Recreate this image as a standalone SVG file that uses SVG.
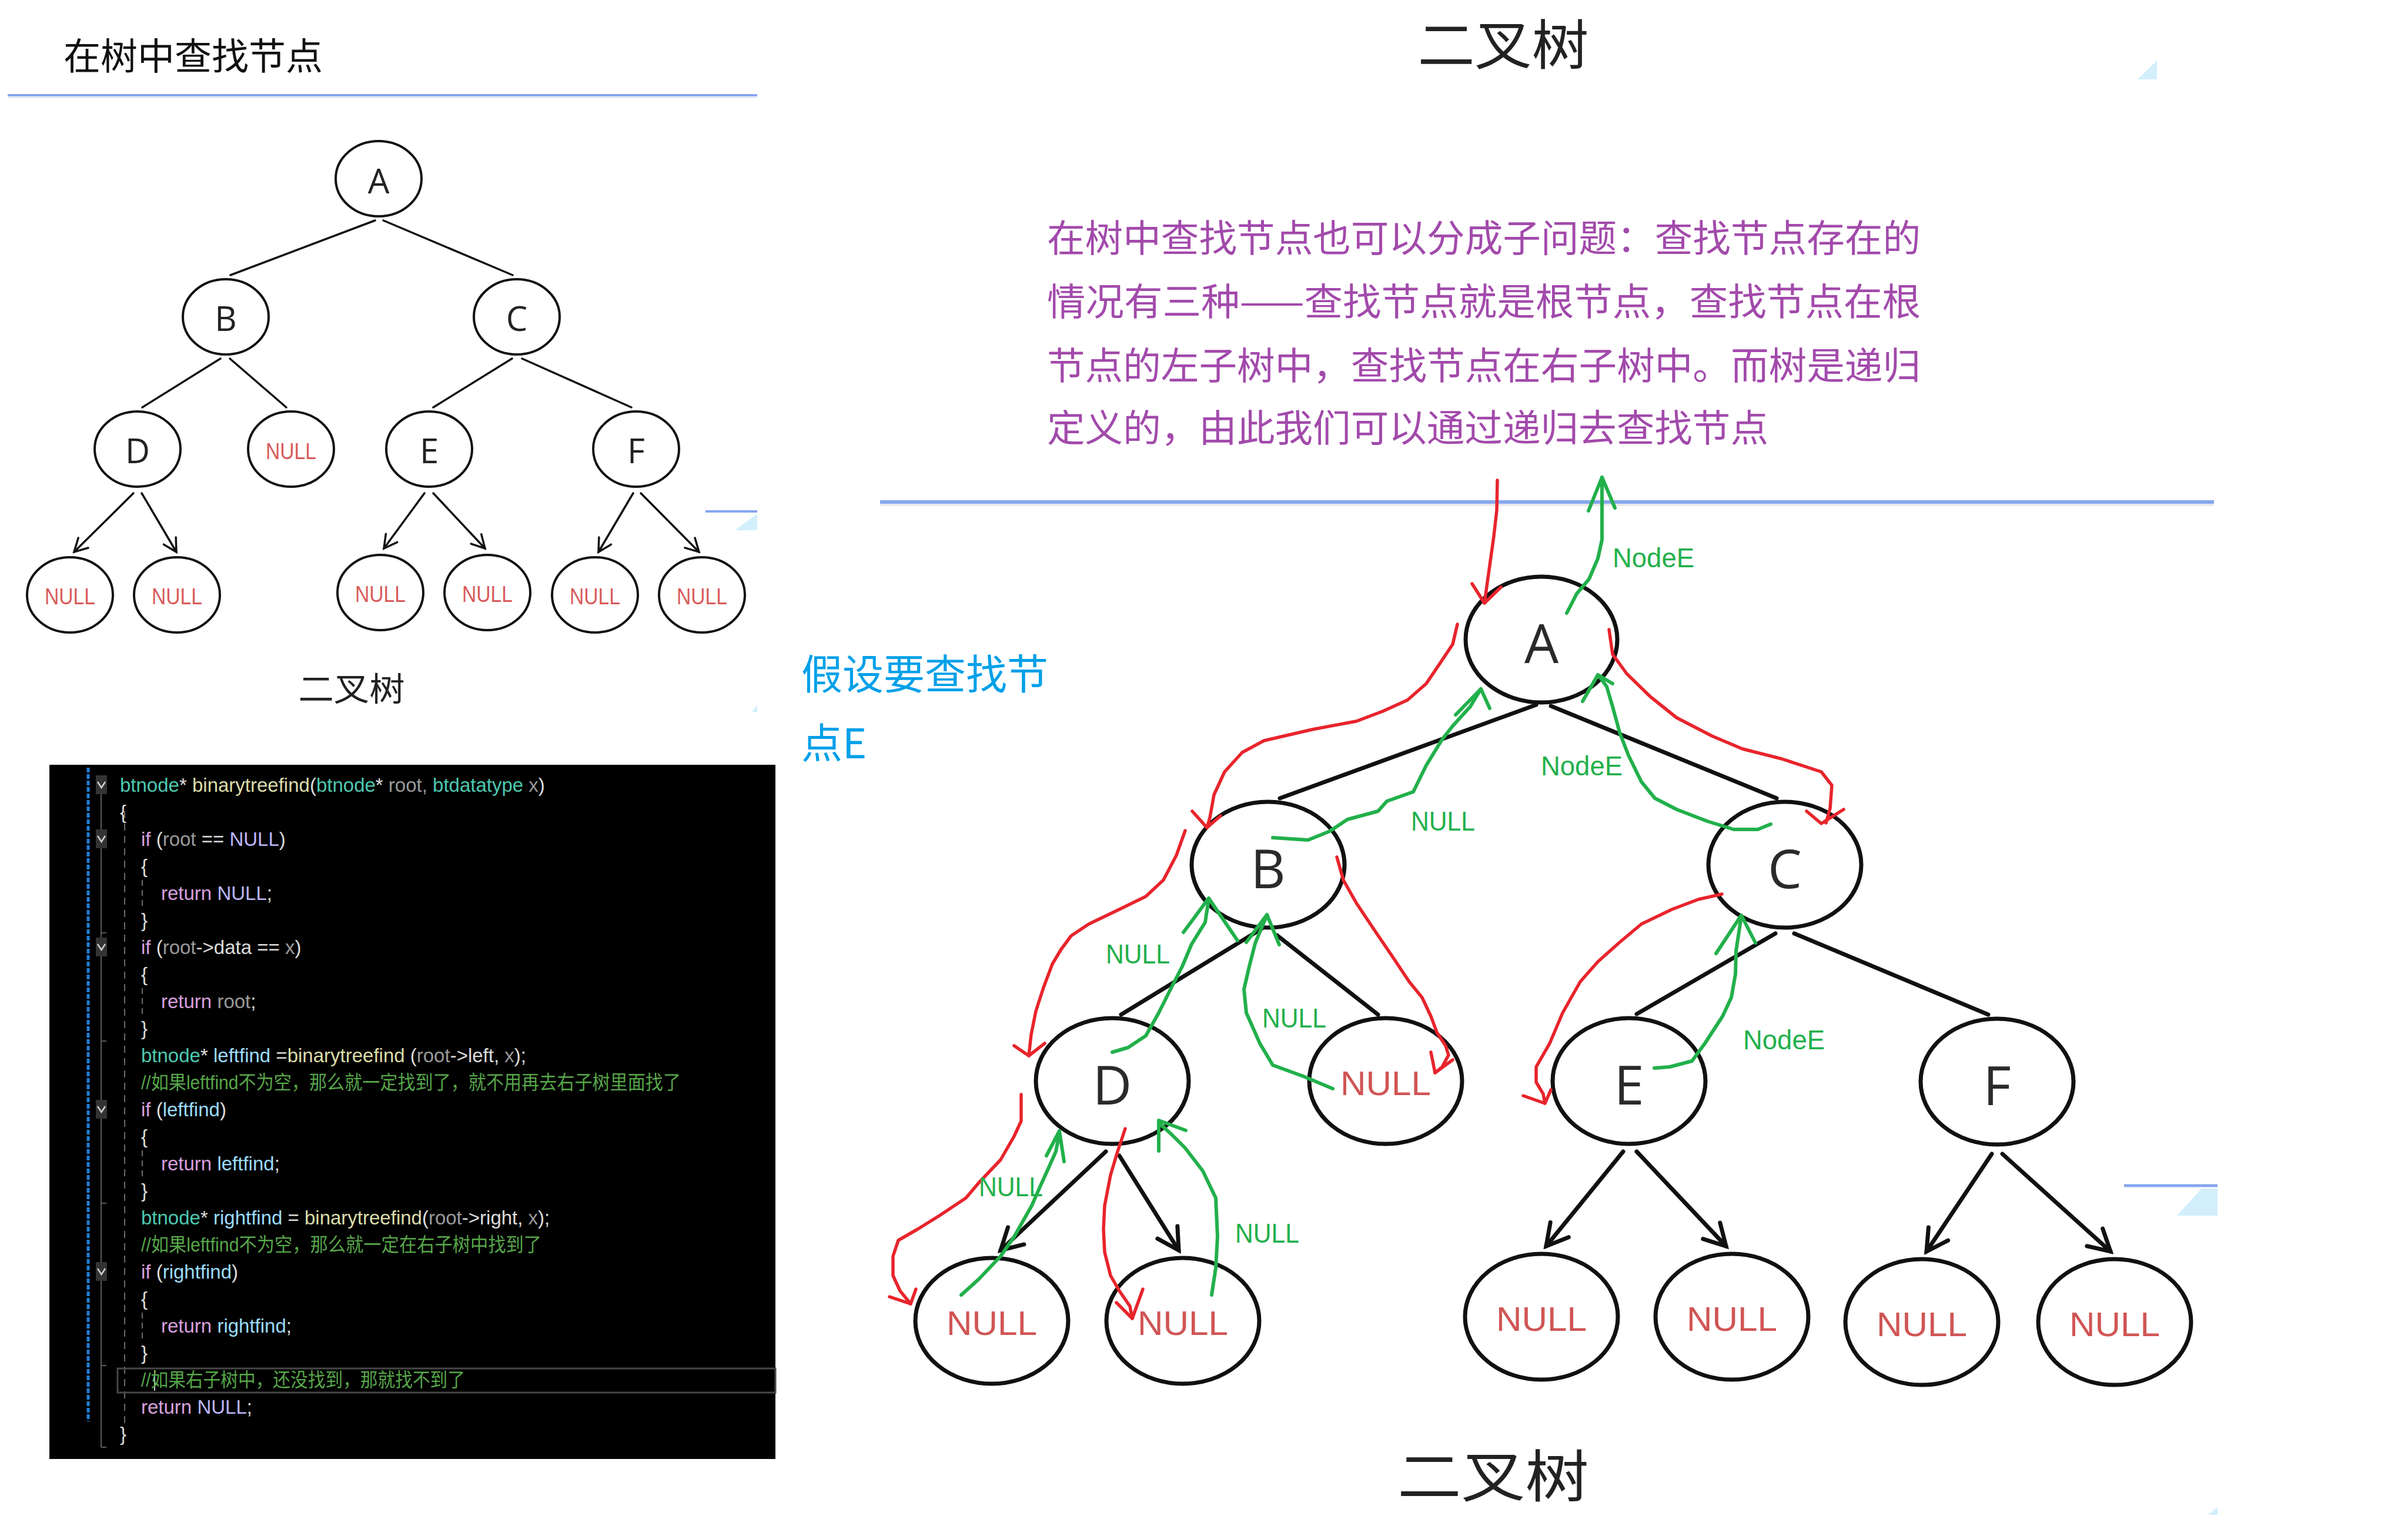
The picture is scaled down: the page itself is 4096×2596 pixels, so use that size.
<svg xmlns="http://www.w3.org/2000/svg" width="4096" height="2596" viewBox="0 0 4096 2596">
<defs>
<style>
.cjk{font-family:"Noto Sans CJK SC","Noto Sans",sans-serif}
.sn{fill:#fff;stroke:#111;stroke-width:4}
.bn{fill:#fff;stroke:#111;stroke-width:7}
.sl{font-family:"Open Sans","Liberation Sans",sans-serif;font-size:58px;fill:#222;text-anchor:middle}
.bl{font-family:"Open Sans","Liberation Sans",sans-serif;font-size:92px;fill:#2a2a2a;text-anchor:middle}
.snull{font-family:"Liberation Sans",sans-serif;font-size:38px;fill:#d85a5a;text-anchor:middle}
.bnull{font-family:"Liberation Sans",sans-serif;font-size:58px;fill:#d05555;text-anchor:middle}
.se{stroke:#111;stroke-width:3.5;fill:none;stroke-linecap:round}
.be{stroke:#111;stroke-width:7;fill:none;stroke-linecap:round}
.red{stroke:#e8242c;stroke-width:5.5;fill:none;stroke-linecap:round;stroke-linejoin:round}
.grn{stroke:#22b04b;stroke-width:6;fill:none;stroke-linecap:round;stroke-linejoin:round}
.gl{font-family:"Liberation Sans",sans-serif;font-size:46px;fill:#22b04b}
.code{font-family:"Liberation Sans","Noto Sans CJK SC",sans-serif;font-size:33px;fill:#dcdcdc}
.ty{fill:#4ec9b0}.fn{fill:#dcdcaa}.pm{fill:#9a9a9a}.kw{fill:#d8a0df}.mc{fill:#bdb7fc}.vr{fill:#9cdcfe}.pl{fill:#dcdcdc}.cm{fill:#57a64a}
.fold{fill:#333}
.chev{stroke:#d0d0d0;stroke-width:2.5;fill:none}
</style>
<marker id="arrS" markerUnits="userSpaceOnUse" orient="auto" markerWidth="40" markerHeight="40" viewBox="-30 -20 40 40" refX="0" refY="0" overflow="visible">
<path d="M-22,-12 L0,0 L-22,12" fill="none" stroke="#111" stroke-width="3.5" stroke-linecap="round"/>
</marker>
<marker id="arrB" markerUnits="userSpaceOnUse" orient="auto" markerWidth="60" markerHeight="60" viewBox="-45 -30 60 60" refX="0" refY="0" overflow="visible">
<path d="M-36,-20 L0,0 L-36,20" fill="none" stroke="#111" stroke-width="7" stroke-linecap="round"/>
</marker>
</defs>
<rect x="0" y="0" width="4096" height="2596" fill="#fff"/>

<!-- left header -->
<text class="cjk" x="108" y="118" font-size="63" fill="#111">在树中查找节点</text>
<line x1="13" y1="162" x2="1288" y2="162" stroke="#86a6ee" stroke-width="4"/>
<line x1="13" y1="166" x2="1288" y2="166" stroke="#e2e6ee" stroke-width="2"/>

<!-- small tree connectors -->
<g id="small-connectors">
<line class="se" x1="638" y1="375" x2="392" y2="468"/>
<line class="se" x1="652" y1="375" x2="872" y2="468"/>
<line class="se" x1="375" y1="610" x2="242" y2="693"/>
<line class="se" x1="391" y1="610" x2="487" y2="693"/>
<line class="se" x1="871" y1="610" x2="737" y2="693"/>
<line class="se" x1="888" y1="610" x2="1074" y2="693"/>
<line class="se" x1="227" y1="839" x2="126" y2="939" marker-end="url(#arrS)"/>
<line class="se" x1="241" y1="839" x2="300" y2="939" marker-end="url(#arrS)"/>
<line class="se" x1="722" y1="839" x2="653" y2="933" marker-end="url(#arrS)"/>
<line class="se" x1="737" y1="839" x2="825" y2="933" marker-end="url(#arrS)"/>
<line class="se" x1="1077" y1="839" x2="1018" y2="939" marker-end="url(#arrS)"/>
<line class="se" x1="1090" y1="839" x2="1189" y2="939" marker-end="url(#arrS)"/>
</g>
<g id="sA"><ellipse class="sn" cx="644" cy="304" rx="73" ry="64"/><text class="sl" x="644" y="329">A</text></g>
<g id="sB"><ellipse class="sn" cx="384" cy="539" rx="73" ry="64"/><text class="sl" x="384" y="563">B</text></g>
<g id="sC"><ellipse class="sn" cx="879" cy="539" rx="73" ry="64"/><text class="sl" x="879" y="563">C</text></g>
<g id="sD"><ellipse class="sn" cx="234" cy="764" rx="73" ry="64"/><text class="sl" x="234" y="788">D</text></g>
<g id="sN1"><ellipse class="sn" cx="495" cy="764" rx="73" ry="64"/><text class="snull" x="495" y="781" textLength="86" lengthAdjust="spacingAndGlyphs">NULL</text></g>
<g id="sE"><ellipse class="sn" cx="730" cy="764" rx="73" ry="64"/><text class="sl" x="730" y="788">E</text></g>
<g id="sF"><ellipse class="sn" cx="1082" cy="764" rx="73" ry="64"/><text class="sl" x="1082" y="788">F</text></g>
<g id="sL1"><ellipse class="sn" cx="119" cy="1012" rx="73" ry="64"/><text class="snull" x="119" y="1028" textLength="86" lengthAdjust="spacingAndGlyphs">NULL</text></g>
<g id="sL2"><ellipse class="sn" cx="301" cy="1012" rx="73" ry="64"/><text class="snull" x="301" y="1028" textLength="86" lengthAdjust="spacingAndGlyphs">NULL</text></g>
<g id="sL3"><ellipse class="sn" cx="647" cy="1008" rx="73" ry="64"/><text class="snull" x="647" y="1024" textLength="86" lengthAdjust="spacingAndGlyphs">NULL</text></g>
<g id="sL4"><ellipse class="sn" cx="829" cy="1008" rx="73" ry="64"/><text class="snull" x="829" y="1024" textLength="86" lengthAdjust="spacingAndGlyphs">NULL</text></g>
<g id="sL5"><ellipse class="sn" cx="1012" cy="1012" rx="73" ry="64"/><text class="snull" x="1012" y="1028" textLength="86" lengthAdjust="spacingAndGlyphs">NULL</text></g>
<g id="sL6"><ellipse class="sn" cx="1194" cy="1012" rx="73" ry="64"/><text class="snull" x="1194" y="1028" textLength="86" lengthAdjust="spacingAndGlyphs">NULL</text></g>
<text class="cjk" x="598" y="1192" font-size="56" fill="#222" text-anchor="middle" textLength="181" lengthAdjust="spacingAndGlyphs">二叉树</text>
<line x1="1200" y1="870" x2="1288" y2="870" stroke="#86a6ee" stroke-width="4"/>
<polygon points="1250,902 1288,874 1288,902" fill="#d2effb"/>
<polygon points="1279,1211 1288,1199 1288,1211" fill="#d2effb"/>

<!-- code block -->
<g id="code">
<rect x="84" y="1301" width="1235" height="1181" fill="#000"/>
<line x1="150" y1="1306" x2="150" y2="2418" stroke="#1f7fd6" stroke-width="5" stroke-dasharray="8 3"/>
<line x1="172" y1="1340" x2="172" y2="2462" stroke="#5a5a5a" stroke-width="2"/>
<g stroke="#5a5a5a" stroke-width="2">
<line x1="172" y1="1587" x2="181" y2="1587"/><line x1="172" y1="1771" x2="181" y2="1771"/><line x1="172" y1="2047" x2="181" y2="2047"/><line x1="172" y1="2323" x2="181" y2="2323"/><line x1="172" y1="2462" x2="181" y2="2462"/>
</g>
<g>
<rect class="fold" x="163" y="1319" width="19" height="32"/><path class="chev" d="M166,1330 L172.5,1340 L179,1330"/>
<rect class="fold" x="163" y="1411" width="19" height="32"/><path class="chev" d="M166,1422 L172.5,1432 L179,1422"/>
<rect class="fold" x="163" y="1595" width="19" height="32"/><path class="chev" d="M166,1606 L172.5,1616 L179,1606"/>
<rect class="fold" x="163" y="1871" width="19" height="32"/><path class="chev" d="M166,1882 L172.5,1892 L179,1882"/>
<rect class="fold" x="163" y="2147" width="19" height="32"/><path class="chev" d="M166,2158 L172.5,2168 L179,2158"/>
</g>
<line x1="212" y1="1380" x2="212" y2="2425" stroke="#6a6a6a" stroke-width="2" stroke-dasharray="12 9"/>
<g stroke="#6a6a6a" stroke-width="2" stroke-dasharray="10 7">
<line x1="242" y1="1497" x2="242" y2="1541"/><line x1="242" y1="1681" x2="242" y2="1725"/><line x1="242" y1="1957" x2="242" y2="2001"/><line x1="242" y1="2233" x2="242" y2="2277"/>
</g>
<rect x="200" y="2328" width="1119" height="41" fill="none" stroke="#474747" stroke-width="3"/>
<line x1="263" y1="2331" x2="263" y2="2366" stroke="#cccccc" stroke-width="2"/>
<g class="code">
<text x="204" y="1347"><tspan class="ty">btnode</tspan><tspan class="pl">* </tspan><tspan class="fn">binarytreefind</tspan><tspan class="pl">(</tspan><tspan class="ty">btnode</tspan><tspan class="pl">* </tspan><tspan class="pm">root, </tspan><tspan class="ty">btdatatype</tspan><tspan class="pm"> x</tspan><tspan class="pl">)</tspan></text>
<text x="204" y="1393">{</text>
<text x="240" y="1439"><tspan class="kw">if</tspan><tspan class="pl"> (</tspan><tspan class="pm">root</tspan><tspan class="pl"> == </tspan><tspan class="mc">NULL</tspan><tspan class="pl">)</tspan></text>
<text x="240" y="1485">{</text>
<text x="274" y="1531"><tspan class="kw">return</tspan><tspan class="mc"> NULL</tspan><tspan class="pl">;</tspan></text>
<text x="240" y="1577">}</text>
<text x="240" y="1623"><tspan class="kw">if</tspan><tspan class="pl"> (</tspan><tspan class="pm">root</tspan><tspan class="pl">-&gt;data == </tspan><tspan class="pm">x</tspan><tspan class="pl">)</tspan></text>
<text x="240" y="1669">{</text>
<text x="274" y="1715"><tspan class="kw">return</tspan><tspan class="pm"> root</tspan><tspan class="pl">;</tspan></text>
<text x="240" y="1761">}</text>
<text x="240" y="1807"><tspan class="ty">btnode</tspan><tspan class="pl">* </tspan><tspan class="vr">leftfind</tspan><tspan class="pl"> =</tspan><tspan class="fn">binarytreefind</tspan><tspan class="pl"> (</tspan><tspan class="pm">root</tspan><tspan class="pl">-&gt;left, </tspan><tspan class="pm">x</tspan><tspan class="pl">);</tspan></text>
<text x="240" y="1853" class="cm" textLength="918" lengthAdjust="spacingAndGlyphs">//如果leftfind不为空，那么就一定找到了，就不用再去右子树里面找了</text>
<text x="240" y="1899"><tspan class="kw">if</tspan><tspan class="pl"> (</tspan><tspan class="vr">leftfind</tspan><tspan class="pl">)</tspan></text>
<text x="240" y="1945">{</text>
<text x="274" y="1991"><tspan class="kw">return</tspan><tspan class="vr"> leftfind</tspan><tspan class="pl">;</tspan></text>
<text x="240" y="2037">}</text>
<text x="240" y="2083"><tspan class="ty">btnode</tspan><tspan class="pl">* </tspan><tspan class="vr">rightfind</tspan><tspan class="pl"> = </tspan><tspan class="fn">binarytreefind</tspan><tspan class="pl">(</tspan><tspan class="pm">root</tspan><tspan class="pl">-&gt;right, </tspan><tspan class="pm">x</tspan><tspan class="pl">);</tspan></text>
<text x="240" y="2129" class="cm" textLength="681" lengthAdjust="spacingAndGlyphs">//如果leftfind不为空，那么就一定在右子树中找到了</text>
<text x="240" y="2175"><tspan class="kw">if</tspan><tspan class="pl"> (</tspan><tspan class="vr">rightfind</tspan><tspan class="pl">)</tspan></text>
<text x="240" y="2221">{</text>
<text x="274" y="2267"><tspan class="kw">return</tspan><tspan class="vr"> rightfind</tspan><tspan class="pl">;</tspan></text>
<text x="240" y="2313">}</text>
<text x="240" y="2359" class="cm" textLength="551" lengthAdjust="spacingAndGlyphs">//如果右子树中，还没找到，那就找不到了</text>
<text x="240" y="2405"><tspan class="kw">return</tspan><tspan class="mc"> NULL</tspan><tspan class="pl">;</tspan></text>
<text x="204" y="2451">}</text>
</g>
</g>

<!-- right side header -->
<text class="cjk" x="2557" y="110" font-size="92" fill="#222" text-anchor="middle" textLength="291" lengthAdjust="spacingAndGlyphs">二叉树</text>
<polygon points="3636,135 3669,103 3669,135" fill="#d2effb"/>
<g class="cjk" font-size="64" fill="#a24aab">
<text x="1781" y="428" textLength="1486" lengthAdjust="spacingAndGlyphs">在树中查找节点也可以分成子问题：查找节点存在的</text>
<text x="1781" y="536" textLength="1486" lengthAdjust="spacingAndGlyphs">情况有三种——查找节点就是根节点，查找节点在根</text>
<text x="1781" y="645" textLength="1486" lengthAdjust="spacingAndGlyphs">节点的左子树中，查找节点在右子树中。而树是递归</text>
<text x="1781" y="751" textLength="1227" lengthAdjust="spacingAndGlyphs">定义的，由此我们可以通过递归去查找节点</text>
</g>
<line x1="1497" y1="854" x2="3766" y2="854" stroke="#86a6ee" stroke-width="6"/>
<line x1="1497" y1="859" x2="3766" y2="859" stroke="#e4e4e4" stroke-width="3"/>
<g class="cjk" font-size="70" fill="#00a0e8">
<text x="1363" y="1173">假设要查找节</text>
<text x="1363" y="1290">点E</text>
</g>
<line x1="3613" y1="2017" x2="3772" y2="2017" stroke="#86a6ee" stroke-width="5"/>
<polygon points="3703,2068 3745,2022 3772,2022 3772,2068" fill="#d2effb"/>
<polygon points="3756,2577 3772,2564 3772,2577" fill="#d2effb"/>

<!-- big tree connectors -->
<g id="connectors">
<line class="be" x1="2613" y1="1199" x2="2177" y2="1358"/>
<line class="be" x1="2638" y1="1201" x2="3022" y2="1358"/>
<line class="be" x1="2146" y1="1580" x2="1907" y2="1726"/>
<line class="be" x1="2172" y1="1591" x2="2344" y2="1726"/>
<line class="be" x1="3020" y1="1588" x2="2784" y2="1725"/>
<line class="be" x1="3052" y1="1588" x2="3382" y2="1726"/>
<line class="be" x1="1881" y1="1959" x2="1702" y2="2127" marker-end="url(#arrB)"/>
<line class="be" x1="1904" y1="1966" x2="2005" y2="2127" marker-end="url(#arrB)"/>
<line class="be" x1="2761" y1="1959" x2="2630" y2="2120" marker-end="url(#arrB)"/>
<line class="be" x1="2784" y1="1959" x2="2936" y2="2120" marker-end="url(#arrB)"/>
<line class="be" x1="3388" y1="1963" x2="3277" y2="2129" marker-end="url(#arrB)"/>
<line class="be" x1="3406" y1="1963" x2="3590" y2="2129" marker-end="url(#arrB)"/>
</g>

<g id="A"><ellipse class="bn" cx="2622" cy="1088" rx="129" ry="107"/><text class="bl" x="2622" y="1128">A</text></g>
<g id="B"><ellipse class="bn" cx="2157" cy="1471" rx="130" ry="107"/><text class="bl" x="2157" y="1511">B</text></g>
<g id="C"><ellipse class="bn" cx="3036" cy="1471" rx="130" ry="107"/><text class="bl" x="3036" y="1511">C</text></g>
<g id="D"><ellipse class="bn" cx="1892" cy="1839" rx="130" ry="107"/><text class="bl" x="1892" y="1879">D</text></g>
<g id="BN"><ellipse class="bn" cx="2357" cy="1839" rx="130" ry="107"/><text class="bnull" x="2357" y="1863" textLength="154" lengthAdjust="spacingAndGlyphs">NULL</text></g>
<g id="E"><ellipse class="bn" cx="2771" cy="1839" rx="130" ry="107"/><text class="bl" x="2771" y="1879">E</text></g>
<g id="F"><ellipse class="bn" cx="3397" cy="1840" rx="130" ry="107"/><text class="bl" x="3397" y="1880">F</text></g>
<g id="L1"><ellipse class="bn" cx="1687" cy="2247" rx="130" ry="107"/><text class="bnull" x="1687" y="2271" textLength="154" lengthAdjust="spacingAndGlyphs">NULL</text></g>
<g id="L2"><ellipse class="bn" cx="2012" cy="2247" rx="130" ry="107"/><text class="bnull" x="2012" y="2271" textLength="154" lengthAdjust="spacingAndGlyphs">NULL</text></g>
<g id="L3"><ellipse class="bn" cx="2622" cy="2240" rx="130" ry="107"/><text class="bnull" x="2622" y="2264" textLength="154" lengthAdjust="spacingAndGlyphs">NULL</text></g>
<g id="L4"><ellipse class="bn" cx="2946" cy="2240" rx="130" ry="107"/><text class="bnull" x="2946" y="2264" textLength="154" lengthAdjust="spacingAndGlyphs">NULL</text></g>
<g id="L5"><ellipse class="bn" cx="3269" cy="2249" rx="130" ry="107"/><text class="bnull" x="3269" y="2273" textLength="154" lengthAdjust="spacingAndGlyphs">NULL</text></g>
<g id="L6"><ellipse class="bn" cx="3597" cy="2249" rx="130" ry="107"/><text class="bnull" x="3597" y="2273" textLength="154" lengthAdjust="spacingAndGlyphs">NULL</text></g>

<text class="cjk" x="2540" y="2546" font-size="96" fill="#222" text-anchor="middle" textLength="326" lengthAdjust="spacingAndGlyphs">二叉树</text>

<!-- hand-drawn traversal annotations -->
<g id="annotations">
<polyline class="red" points="2547,817 2546,868 2541,912 2534,962 2525,1026"/>
<polyline class="red" points="2504,993 2525,1026 2553,999"/>
<polyline class="red" points="2479,1062 2471,1096 2449,1129 2426,1163 2394,1191 2352,1210 2307,1227 2232,1241 2150,1260 2113,1280 2083,1313 2065,1352 2058,1391 2053,1408"/>
<polyline class="red" points="2028,1380 2053,1408 2076,1388"/>
<polyline class="red" points="2737,1071 2743,1113 2767,1146 2807,1185 2852,1221 2912,1252 2964,1274 3031,1291 3098,1313 3116,1336 3113,1375 3106,1400"/>
<polyline class="red" points="3073,1380 3098,1401 3136,1377"/>
<polyline class="red" points="2016,1413 2001,1455 1979,1497 1949,1525 1904,1547 1852,1572 1822,1592 1805,1615 1790,1640 1775,1680 1762,1720 1754,1760 1750,1796"/>
<polyline class="red" points="1725,1779 1750,1796 1777,1775"/>
<polyline class="red" points="2274,1458 2285,1497 2307,1536 2337,1581 2367,1625 2397,1670 2419,1697 2434,1729 2444,1756 2459,1779 2464,1795 2453,1815 2441,1825"/>
<polyline class="red" points="2434,1790 2441,1825 2471,1803"/>
<polyline class="red" points="2929,1521 2889,1530 2844,1547 2792,1572 2755,1603 2718,1636 2688,1670 2658,1723 2636,1775 2613,1815 2613,1841 2625,1861 2628,1877"/>
<polyline class="red" points="2591,1864 2628,1877 2638,1854"/>
<polyline class="red" points="1737,1862 1737,1907 1725,1933 1702,1973 1665,2012 1643,2038 1598,2068 1561,2091 1528,2110 1519,2137 1519,2170 1531,2196 1549,2218"/>
<polyline class="red" points="1513,2206 1549,2218 1558,2193"/>
<polyline class="red" points="1914,1920 1901,1959 1889,1999 1879,2051 1877,2091 1879,2130 1889,2170 1904,2196 1922,2222 1926,2243"/>
<polyline class="red" points="1899,2216 1926,2243 1944,2193"/>

<polyline class="grn" points="2665,1043 2682,1010 2703,985 2718,950 2725,918 2725,870 2725,812"/>
<polyline class="grn" points="2702,869 2725,812 2747,864"/>
<polyline class="grn" points="2165,1425 2225,1429 2262,1414 2292,1394 2344,1380 2359,1363 2404,1347 2426,1302 2453,1258 2471,1235 2501,1202 2519,1172"/>
<polyline class="grn" points="2476,1216 2519,1172 2534,1205"/>
<polyline class="grn" points="3012,1402 2990,1411 2949,1411 2904,1397 2852,1377 2815,1358 2792,1330 2770,1285 2755,1246 2743,1202 2733,1168 2720,1150"/>
<polyline class="grn" points="2692,1193 2718,1148 2743,1163"/>
<polyline class="grn" points="2267,1852 2217,1831 2165,1812 2143,1775 2120,1723 2116,1683 2125,1644 2135,1605 2146,1578 2155,1558"/>
<polyline class="grn" points="2120,1603 2155,1556 2176,1607"/>
<polyline class="grn" points="1892,1790 1919,1782 1949,1762 1971,1723 1991,1683 2011,1644 2027,1606 2050,1569 2056,1530"/>
<polyline class="grn" points="2013,1586 2056,1528 2105,1600"/>
<polyline class="grn" points="2814,1817 2840,1815 2878,1805 2900,1775 2930,1729 2945,1697 2952,1657 2953,1618 2959,1578 2962,1559"/>
<polyline class="grn" points="2919,1622 2962,1557 2986,1604"/>
<polyline class="grn" points="1635,2203 1665,2176 1702,2137 1725,2104 1755,2051 1769,2019 1784,1986 1796,1959 1802,1928"/>
<polyline class="grn" points="1780,1966 1802,1924 1810,1976"/>
<polyline class="grn" points="2061,2203 2068,2157 2071,2104 2068,2038 2046,1992 2016,1953 1993,1930 1971,1910"/>
<polyline class="grn" points="1971,1958 1971,1906 2017,1923"/>

<text class="gl" x="2743" y="965" textLength="139" lengthAdjust="spacingAndGlyphs">NodeE</text>
<text class="gl" x="2621" y="1319" textLength="139" lengthAdjust="spacingAndGlyphs">NodeE</text>
<text class="gl" x="2400" y="1413" textLength="109" lengthAdjust="spacingAndGlyphs">NULL</text>
<text class="gl" x="1881" y="1639" textLength="109" lengthAdjust="spacingAndGlyphs">NULL</text>
<text class="gl" x="2147" y="1748" textLength="109" lengthAdjust="spacingAndGlyphs">NULL</text>
<text class="gl" x="2965" y="1785" textLength="139" lengthAdjust="spacingAndGlyphs">NodeE</text>
<text class="gl" x="1665" y="2035" textLength="109" lengthAdjust="spacingAndGlyphs">NULL</text>
<text class="gl" x="2101" y="2114" textLength="109" lengthAdjust="spacingAndGlyphs">NULL</text>
</g>
</svg>
